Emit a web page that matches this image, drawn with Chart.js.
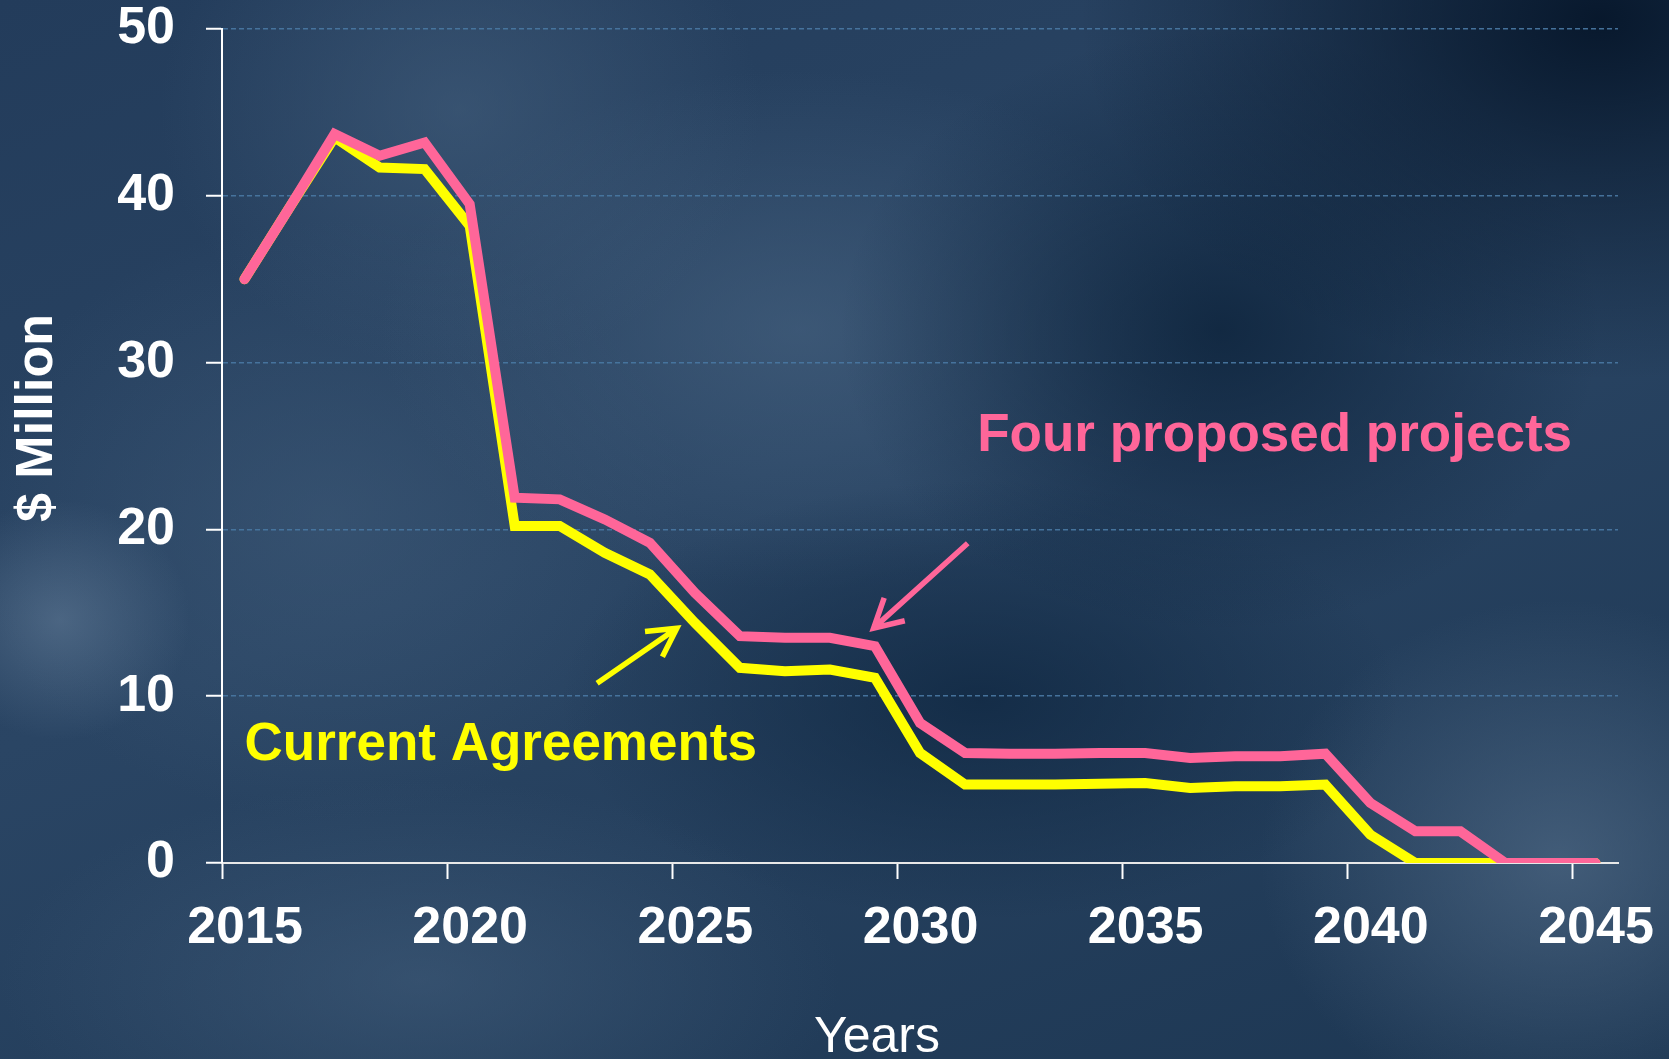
<!DOCTYPE html>
<html>
<head>
<meta charset="utf-8">
<title>Current Agreements vs Four proposed projects</title>
<script src="https://cdn.jsdelivr.net/npm/chart.js@4.4.1/dist/chart.umd.min.js"></script>
<style>
html, body { margin: 0; padding: 0; }
body {
	width: 1669px;
	height: 1059px;
	overflow: hidden;
	background:
		radial-gradient(ellipse 520px 360px at 1600px 20px, rgba(6, 22, 42, 0.95), rgba(6, 22, 42, 0)),
		radial-gradient(ellipse 380px 300px at 1220px 330px, rgba(12, 34, 58, 0.8), rgba(12, 34, 58, 0)),
		radial-gradient(ellipse 420px 220px at 980px 700px, rgba(14, 38, 64, 0.75), rgba(14, 38, 64, 0)),
		radial-gradient(ellipse 130px 120px at 60px 620px, rgba(96, 122, 150, 0.6), rgba(96, 122, 150, 0)),
		radial-gradient(ellipse 300px 260px at 460px 110px, rgba(70, 98, 128, 0.55), rgba(70, 98, 128, 0)),
		radial-gradient(ellipse 420px 260px at 800px 330px, rgba(72, 100, 130, 0.6), rgba(72, 100, 130, 0)),
		radial-gradient(ellipse 300px 260px at 1560px 860px, rgba(84, 110, 138, 0.65), rgba(84, 110, 138, 0)),
		radial-gradient(ellipse 420px 200px at 420px 980px, rgba(70, 98, 128, 0.5), rgba(70, 98, 128, 0)),
		radial-gradient(ellipse 360px 300px at 330px 520px, rgba(66, 94, 124, 0.5), rgba(66, 94, 124, 0)),
		linear-gradient(160deg, #233c5b 0%, #2a4564 45%, #1d3753 100%);
}
#wrap { position: relative; width: 1669px; height: 1059px; }
</style>
</head>
<body>
<div id="wrap"><canvas id="lineChart" width="1669" height="1059"></canvas></div>
<script>
// mid-year points, $ Million
var years = [
	2015.5, 2016.5, 2017.5, 2018.5, 2019.5, 2020.5, 2021.5, 2022.5, 2023.5, 2024.5,
	2025.5, 2026.5, 2027.5, 2028.5, 2029.5, 2030.5, 2031.5, 2032.5, 2033.5, 2034.5,
	2035.5, 2036.5, 2037.5, 2038.5, 2039.5, 2040.5, 2041.5, 2042.5, 2043.5, 2044.5, 2045.5
];
var currentAgreements = [
	35, 39.3, 43.5, 41.7, 41.6, 38.2, 20.2, 20.2, 18.6, 17.3,
	14.4, 11.7, 11.5, 11.6, 11.1, 6.6, 4.7, 4.7, 4.7, 4.75,
	4.8, 4.5, 4.6, 4.6, 4.7, 1.7, 0, 0, 0, 0, 0
];
var fourProposed = [
	35, 39.3, 43.7, 42.4, 43.2, 39.5, 21.9, 21.8, 20.6, 19.2,
	16.2, 13.6, 13.5, 13.5, 13.0, 8.4, 6.6, 6.55, 6.55, 6.6,
	6.6, 6.3, 6.4, 6.4, 6.55, 3.6, 1.9, 1.9, 0, 0, 0
];
var xTicks = [2015, 2020, 2025, 2030, 2035, 2040, 2045];
var yTicks = [0, 10, 20, 30, 40, 50];

var pink = "#ff6699",
	yellow = "#ffff00",
	gridBlue = "rgba(72, 118, 160, 0.95)",
	fontFamily = "'Liberation Sans', Arial, sans-serif";

function toPoints(vals) {
	return vals.map(function (v, i) {
		return { x: years[i], y: v };
	});
}

// labels and arrows, placed in data units
var notes = [
	{ text: "Four proposed projects", color: pink, x: 2031.77, y: 24.7 },
	{ text: "Current Agreements", color: yellow, x: 2015.5, y: 6.19 }
];
var arrows = [
	{ color: pink, from: [2031.56, 19.17], to: [2029.47, 14.08] },
	{ color: yellow, from: [2023.33, 10.78], to: [2025.1, 14.08] }
];

var notesPlugin = {
	id: "notes",
	afterDraw: function (chart) {
		var ctx = chart.ctx,
			xs = chart.scales.x,
			ys = chart.scales.y;
		ctx.save();
		ctx.font = "bold 53px " + fontFamily;
		ctx.textAlign = "left";
		ctx.textBaseline = "alphabetic";
		notes.forEach(function (n) {
			ctx.fillStyle = n.color;
			ctx.fillText(n.text, xs.getPixelForValue(n.x), ys.getPixelForValue(n.y));
		});
		ctx.lineWidth = 5.5;
		ctx.lineCap = "butt";
		ctx.lineJoin = "miter";
		arrows.forEach(function (a) {
			var x0 = xs.getPixelForValue(a.from[0]),
				y0 = ys.getPixelForValue(a.from[1]),
				x1 = xs.getPixelForValue(a.to[0]),
				y1 = ys.getPixelForValue(a.to[1]),
				ang = Math.atan2(y0 - y1, x0 - x1),
				h = 32,
				w = 0.5;
			ctx.strokeStyle = a.color;
			ctx.beginPath();
			ctx.moveTo(x0, y0);
			ctx.lineTo(x1, y1);
			ctx.moveTo(x1 + h * Math.cos(ang - w), y1 + h * Math.sin(ang - w));
			ctx.lineTo(x1, y1);
			ctx.lineTo(x1 + h * Math.cos(ang + w), y1 + h * Math.sin(ang + w));
			ctx.stroke();
		});
		// axis titles
		ctx.fillStyle = "#ffffff";
		ctx.font = "50px " + fontFamily;
		ctx.textAlign = "center";
		ctx.fillText("Years", 877, 1052);
		ctx.save();
		ctx.translate(52, 418);
		ctx.rotate(-Math.PI / 2);
		ctx.font = "bold 52px " + fontFamily;
		ctx.fillText("$ Million", 0, 0);
		ctx.restore();
		ctx.restore();
	}
};

var tickFont = { family: fontFamily, size: 52, weight: "bold", lineHeight: 1 };

var lineChart = new Chart(document.getElementById("lineChart"), {
	type: "line",
	data: {
		datasets: [
			{
				label: "Four proposed projects",
				data: toPoints(fourProposed),
				borderColor: pink,
				backgroundColor: pink,
				borderWidth: 10,
				borderCapStyle: "round",
				borderJoinStyle: "miter",
				pointRadius: 0,
				tension: 0,
				fill: false
			},
			{
				label: "Current Agreements",
				data: toPoints(currentAgreements),
				borderColor: yellow,
				backgroundColor: yellow,
				borderWidth: 10,
				borderCapStyle: "round",
				borderJoinStyle: "miter",
				pointRadius: 0,
				tension: 0,
				fill: false
			}
		]
	},
	options: {
		responsive: false,
		animation: false,
		devicePixelRatio: 1,
		layout: { padding: { top: 29, right: 51, left: 0, bottom: 0 } },
		plugins: { legend: { display: false }, tooltip: { enabled: false } },
		scales: {
			x: {
				type: "linear",
				min: 2015,
				max: 2046,
				afterBuildTicks: function (s) {
					s.ticks = xTicks.map(function (v) { return { value: v }; });
				},
				afterFit: function (s) {
					s.height = 196;
					s.paddingLeft = 0;
					s.paddingRight = 0;
				},
				grid: { drawOnChartArea: false, drawTicks: true, tickLength: 16, tickColor: "#ffffff", tickWidth: 2, color: "#ffffff" },
				border: { color: "#e8e8e8", width: 2 },
				ticks: {
					color: "#ffffff",
					font: tickFont,
					padding: 24,
					labelOffset: 23,
					maxRotation: 0,
					autoSkip: false,
					callback: function (v) { return String(v); }
				}
			},
			y: {
				min: 0,
				max: 50,
				afterBuildTicks: function (s) {
					s.ticks = yTicks.map(function (v) { return { value: v }; });
				},
				afterFit: function (s) {
					s.width = 222;
					s.paddingTop = 0;
					s.paddingBottom = 0;
				},
				grid: {
					color: function (c) { return c.tick && c.tick.value === 0 ? "rgba(0,0,0,0)" : gridBlue; },
					lineWidth: 1.5,
					tickColor: "#ffffff",
					tickLength: 16,
					tickWidth: 2
				},
				border: { color: "#ffffff", width: 2, dash: [5, 3] },
				ticks: { color: "#ffffff", font: tickFont, padding: 31 }
			}
		}
	},
	plugins: [notesPlugin]
});
</script>
</body>
</html>
